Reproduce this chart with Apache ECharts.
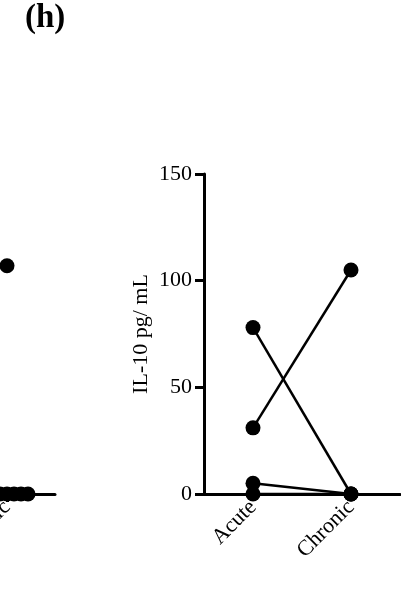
<!DOCTYPE html>
<html>
<head>
<meta charset="utf-8">
<script src="https://cdn.jsdelivr.net/npm/echarts@6/dist/echarts.min.js"></script>
<style>
  html, body { margin: 0; padding: 0; background: #fff; }
  #main { width: 401px; height: 612px; }
</style>
</head>
<body>
<div id="main"></div>
<script>
// categories and values
var groups = ['Acute', 'Chronic'];
var yTicks = [0, 50, 100, 150];
// panel (h): paired IL-10 values, one pair per subject
var acuteIL10 = [78, 31, 5, 0];
var chronicIL10 = [0, 105, 0, 0];
// the panel cut off at the left edge (only its Chronic column shows)
var prevChronic = [107, 0, 0, 0, 0, 0, 0, 0];

var font = '"Liberation Serif", "DejaVu Serif", serif';
var black = '#000';
var myChart = echarts.init(document.getElementById('main'));

// spread the zero points sideways like the scatter in the original
var zeroCount = 0;
var prevData = prevChronic.map(function (v) {
    // group position 2 = Chronic on the cut-off panel's axis
    if (v !== 0) return {value: [2, v]};
    var k = zeroCount++;
    return {value: [2, v], symbolOffset: [(k - 3) * 7, 0]};
});

var series = [{
    type: 'scatter',
    xAxisIndex: 0,
    yAxisIndex: 0,
    symbol: 'circle',
    symbolSize: 15,
    itemStyle: {color: black, opacity: 1},
    clip: false,
    data: prevData
}];

acuteIL10.forEach(function (a, i) {
    series.push({
        type: 'line',
        xAxisIndex: 1,
        yAxisIndex: 1,
        symbol: 'circle',
        symbolSize: 15,
        showSymbol: true,
        itemStyle: {color: black, opacity: 1},
        lineStyle: {color: black, width: 2.5},
        clip: false,
        data: [a, chronicIL10[i]]
    });
});

var labelStyle = {color: black, fontSize: 22, fontFamily: font};

var option = {
    animation: false,
    graphic: [{
        type: 'text',
        left: 25,
        top: 2,
        style: {text: '(h)', font: 'bold 33px ' + font, fill: black}
    }],
    grid: [
        {left: 0, top: 174, width: 55, height: 320, containLabel: false, outerBoundsMode: 'none'},
        {left: 204, top: 174, width: 196, height: 320, containLabel: false, outerBoundsMode: 'none'}
    ],
    xAxis: [
        {
            // only the right end of this panel is inside the picture
            type: 'value',
            gridIndex: 0,
            min: 1.927,
            max: 2.5,
            axisLine: {lineStyle: {color: black, width: 3}},
            axisTick: {show: true, customValues: [2], length: 8, lineStyle: {color: black, width: 3}},
            axisLabel: Object.assign({
                customValues: [2], rotate: 45, margin: 10,
                formatter: function (v) { return groups[Math.round(v) - 1]; }
            }, labelStyle),
            splitLine: {show: false}
        },
        {
            type: 'category',
            gridIndex: 1,
            data: groups,
            boundaryGap: true,
            axisLine: {lineStyle: {color: black, width: 3}},
            axisTick: {alignWithLabel: true, length: 8, lineStyle: {color: black, width: 3}},
            axisLabel: Object.assign({rotate: 45, margin: 10}, labelStyle),
            splitLine: {show: false}
        }
    ],
    yAxis: [
        {type: 'value', gridIndex: 0, min: 0, max: 150, interval: 50, show: false},
        {
            type: 'value',
            gridIndex: 1,
            min: yTicks[0],
            max: yTicks[yTicks.length - 1],
            interval: 50,
            name: 'IL-10 pg/ mL',
            nameLocation: 'middle',
            nameGap: 52,
            nameTextStyle: labelStyle,
            axisLine: {show: true, lineStyle: {color: black, width: 3}},
            axisTick: {show: true, length: 9, lineStyle: {color: black, width: 3}},
            axisLabel: Object.assign({margin: 12}, labelStyle),
            splitLine: {show: false}
        }
    ],
    series: series
};
myChart.setOption(option);
</script>
</body>
</html>
